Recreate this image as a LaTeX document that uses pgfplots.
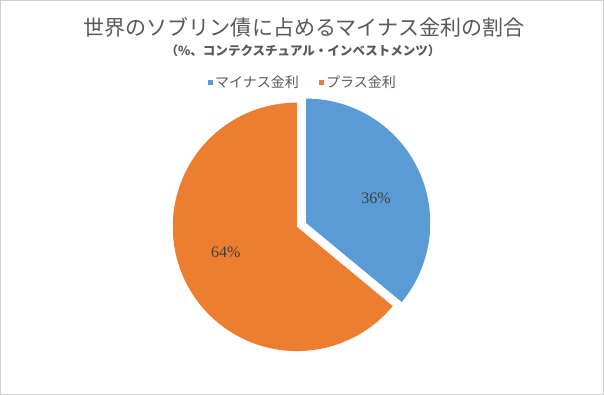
\documentclass[border=0pt]{standalone}
\usepackage{pgfplots}
\pgfplotsset{compat=1.18}
\usepackage{fontspec}
\setmainfont{Noto Sans CJK JP}
\newfontfamily\numfont{Liberation Serif}
\definecolor{cblue}{HTML}{5B9BD5}
\definecolor{corange}{HTML}{ED7D31}
\definecolor{tgrey}{HTML}{595959}
\definecolor{lgrey}{HTML}{404040}
% data (percent)
\def\vMinus{36}
\def\vPlus{64}
\begin{document}
\begin{tikzpicture}
\pgfmathsetmacro{\aEnd}{90-3.6*\vMinus}
\begin{axis}[
  scale only axis, width=602pt, height=393pt,
  xmin=1, xmax=603, ymin=1, ymax=394,
  xtick=\empty, ytick=\empty,
  axis line style={draw=black!18, line width=0.8pt},
  clip=false,
  legend columns=2,
  legend style={draw=none, fill=none, at={(axis cs:303,312)}, anchor=center,
    font=\fontsize{14}{16}\selectfont\color{tgrey},
    nodes={inner xsep=2pt},
    /tikz/every even column/.append style={column sep=18pt}},
  legend image code/.code={\fill[#1] (3pt,-2.5pt) rectangle (8pt,2.5pt);},
]
% orange slice (Plus)
\addplot[fill=corange, draw=none, domain=90:{\aEnd+360}, samples=120, variable=\t, forget plot]
  ({297+124*cos(\t)}, {168+124*sin(\t)}) -- (axis cs:297,168) -- cycle;
% blue slice (Minus), exploded
\addplot[fill=cblue, draw=none, domain={\aEnd}:90, samples=80, variable=\t, forget plot]
  ({306+124*cos(\t)}, {172+124*sin(\t)}) -- (axis cs:306,172) -- cycle;
\addlegendimage{fill=cblue, draw=none}
\addlegendentry{マイナス金利}
\addlegendimage{fill=corange, draw=none}
\addlegendentry{プラス金利}
\node[text=tgrey, font=\fontsize{21}{24}\selectfont] at (axis cs:304,367) {世界のソブリン債に占めるマイナス金利の割合};
\node[text=tgrey, font=\fontsize{12.5}{14}\selectfont\bfseries] at (axis cs:303,344) {（\%、コンテクスチュアル・インベストメンツ）};
\node[text=lgrey, font=\fontsize{16}{18}\selectfont\numfont] at (axis cs:376,197) {\vMinus\%};
\node[text=lgrey, font=\fontsize{16}{18}\selectfont\numfont] at (axis cs:226,143) {\vPlus\%};
\end{axis}
\end{tikzpicture}
\end{document}
